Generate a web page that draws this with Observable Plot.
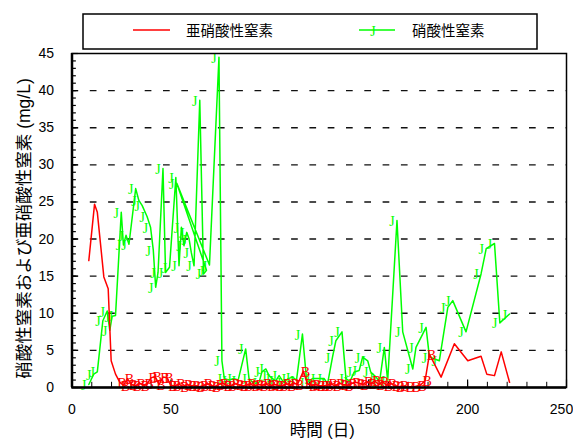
<!DOCTYPE html>
<html><head><meta charset="utf-8">
<script src="https://cdn.jsdelivr.net/npm/d3@7"></script>
<script src="https://cdn.jsdelivr.net/npm/@observablehq/plot@0.6"></script>
<style>
body{margin:0;background:#fff;}
#wrap{position:relative;width:573px;height:439px;}
#wrap svg.leg{position:absolute;left:0;top:0;}
</style></head><body><div id="wrap"></div>
<script>
const seriesNames = ["亜硝酸性窒素", "硝酸性窒素"];
const seriesColors = ["#ff0000", "#00ff00"];
const xTickLabels = [0, 50, 100, 150, 200, 250];
const yTickLabels = [0, 5, 10, 15, 20, 25, 30, 35, 40, 45];
const gridY = [5, 10, 15, 20, 25, 30, 35, 40];

// 硝酸性窒素 (nitrate), in recorded order
const nitrateDays = [8.5, 11, 12.8, 15.6, 17.8, 19.1, 20.3, 22, 24.9, 26, 27.3, 28.8, 32.2, 33.8, 35.5, 38, 39.7, 41.1, 42.3, 43.5, 46, 47.3, 49.3, 52.5, 54.1, 55.3, 56.6, 58, 59.2, 60.3, 61.7, 64.6, 66.5, 68, 53, 69.5, 74.3, 75.8, 77, 79.4, 81.9, 84, 87.8, 89.5, 92, 94.6, 96, 98, 99.6, 101.4, 103, 104.7, 107, 109.3, 111.5, 113.5, 116.5, 118.7, 121.6, 124.1, 127.5, 129.2, 131.7, 133.4, 136.5, 138.5, 140.5, 142.7, 145.2, 146.9, 149.5, 151, 153.7, 155.5, 157.9, 159.6, 164.3, 167.2, 172.3, 173.9, 179, 180.7, 185.7, 190, 192.5, 199.2, 206.8, 209.4, 213.6, 216.3, 221.2];
const nitrateVals = [0.4, 1.8, 2.1, 9.0, 10.3, 7.7, 9.6, 9.7, 23.6, 19.2, 20.5, 19.3, 26.8, 25.2, 24.5, 23, 21.6, 18.5, 13.5, 15.5, 29.5, 15.5, 16.2, 28.3, 16.4, 21.6, 19.1, 20.9, 20, 18.2, 16.4, 38.7, 15.3, 15.8, 27.5, 16.5, 44.5, 3.6, 1.2, 1.0, 1.2, 1.0, 5.2, 1.2, 0.5, 0.7, 2.1, 2.5, 1.6, 1.2, 0.9, 1.6, 0.7, 1.2, 1.4, 1.0, 7.2, 0.7, 1.2, 1.2, 1.2, 0.5, 4.1, 6.3, 7.5, 1.2, 0.8, 2.1, 2.3, 4.1, 3.6, 2.1, 1.4, 0.8, 5.4, 0.9, 22.5, 7.5, 2.5, 5.4, 8.1, 4.1, 3.6, 10.8, 11.7, 7.5, 15.3, 18.7, 19.4, 8.7, 9.9];

// 亜硝酸性窒素 (nitrite)
const nitriteDays = [8.5, 11.4, 12.8, 16.1, 18.3, 19.8, 22, 24.2, 26, 28, 30, 32, 34, 36, 38, 40, 42, 44, 46, 48, 50, 52, 54, 56, 58, 60, 62, 64, 66, 68, 70, 72, 74, 76, 78, 80, 82, 84, 86, 88, 90, 92, 94, 96, 98, 100, 102, 104, 106, 108, 110, 112, 114, 117, 119, 121, 123, 125, 127, 129, 131, 133, 135, 137, 139, 141, 143, 145, 147, 149, 151, 153, 155, 157, 159, 161, 163, 165, 167, 170, 173, 176, 178.5, 180.7, 186.6, 193.3, 200.1, 206.8, 209.7, 213.6, 217, 221.2];
const nitriteVals = [17.1, 24.7, 23.6, 14.9, 13.3, 3.6, 1.8, 0.7, 0.3, 1.2, 0.4, 0.2, 0.6, 0.3, 0.5, 1.3, 1.5, 0.4, 1.4, 1.3, 0.3, 0.2, 0.5, 0.1, 0.4, 0.2, 0.3, 0.1, 0.2, 0.5, 0.3, 0.1, 0.4, 0.6, 0.3, 0.2, 0.5, 0.4, 0.2, 0.3, 0.5, 0.2, 0.4, 0.3, 0.5, 0.2, 0.4, 0.3, 0.2, 0.5, 0.3, 0.6, 0.4, 2.2, 0.5, 0.3, 0.4, 0.2, 0.2, 0.3, 0.5, 0.2, 0.6, 0.4, 0.3, 0.5, 0.7, 0.6, 0.4, 0.8, 0.5, 0.9, 0.4, 0.8, 0.3, 0.6, 0.2, 0.1, 0.2, 0.1, 0.1, 0.3, 0.9, 4.5, 1.4, 5.9, 3.6, 4.2, 1.8, 1.6, 4.8, 0.7];
// nitrite points drawn with a "B" marker: index range
const nitriteMarkFrom = 7, nitriteMarkTo = 84;

const nitrate = nitrateDays.map((d, i) => ({day: d, v: nitrateVals[i]}));
const nitrite = nitriteDays.map((d, i) => ({day: d, v: nitriteVals[i]}));
const nitriteMarked = nitrite.slice(nitriteMarkFrom, nitriteMarkTo);

const xMinor = d3.range(10, 250, 10);
const yMinor = d3.range(1, 45, 1);

const sans = "'Liberation Sans','Noto Sans CJK JP',sans-serif";
const serif = "'Liberation Serif',serif";

const plot = Plot.plot({
  width: 573, height: 439,
  marginLeft: 71.5, marginRight: 7, marginTop: 53, marginBottom: 52,
  x: {domain: [0, 250]},
  y: {domain: [0, 45]},
  style: {fontFamily: sans, fontSize: "14px", color: "black", background: "white"},
  marks: [
    Plot.ruleY(gridY, {stroke: "#111", strokeWidth: 1.4, strokeDasharray: "6.7,11.6"}),
    Plot.ruleX(xMinor, {y1: 0, y2: 0.7, stroke: "black", strokeWidth: 1}),
    Plot.ruleX(xTickLabels, {y1: 0, y2: 1.0, stroke: "black", strokeWidth: 1.2}),
    Plot.ruleY(yMinor, {x1: 0, x2: 2.2, stroke: "black", strokeWidth: 1.2}),
    Plot.ruleY(yTickLabels, {x1: 0, x2: 3.2, stroke: "black", strokeWidth: 1.2}),
    Plot.line(nitrate, {x: "day", y: "v", stroke: seriesColors[1], strokeWidth: 1.5}),
    Plot.text(nitrate, {x: "day", y: "v", text: () => "J", fill: seriesColors[1], fontFamily: serif, fontSize: 14, dx: -5, dy: 1}),
    Plot.line(nitrite, {x: "day", y: "v", stroke: seriesColors[0], strokeWidth: 1.5}),
    Plot.text(nitriteMarked, {x: "day", y: "v", text: () => "B", fill: seriesColors[0], fontFamily: serif, fontSize: 14, dx: 2, dy: 1}),
    Plot.frame({stroke: "black", strokeWidth: 1.5}),
    Plot.ruleX([0], {stroke: "black", strokeWidth: 2.5}),
    Plot.ruleY([0], {stroke: "black", strokeWidth: 2.5}),
    Plot.axisX(xTickLabels.slice(0, -1), {tickSize: 0, tickPadding: 17, label: null, fontSize: 14}),
    Plot.axisX(xTickLabels.slice(-1), {tickSize: 0, tickPadding: 17, label: null, fontSize: 14, dx: -5}),
    Plot.axisY(yTickLabels, {tickSize: 0, tickPadding: 18, label: null, fontSize: 14}),
    Plot.text(["硝酸性窒素および亜硝酸性窒素 (mg/L)"], {frameAnchor: "left", textAnchor: "middle", lineAnchor: "middle", rotate: -90, dx: -48, dy: 8, fontSize: 17.5, fontFamily: sans}),
    Plot.text(["時間 (日)"], {frameAnchor: "bottom", textAnchor: "middle", lineAnchor: "middle", dy: 43, dx: 3, fontSize: 16.5, fontFamily: sans})
  ]
});
const wrap = document.getElementById("wrap");
wrap.appendChild(plot);

// legend
const leg = d3.create("svg").attr("class", "leg").attr("width", 573).attr("height", 52);
leg.append("rect").attr("x", 83).attr("y", 14).attr("width", 454).attr("height", 35)
  .attr("fill", "white").attr("stroke", "black").attr("stroke-width", 1.5);
const items = [
  {x1: 133, x2: 170, tx: 186, marker: null},
  {x1: 359, x2: 395, tx: 412, marker: "J"}
];
items.forEach((it, i) => {
  leg.append("line").attr("x1", it.x1).attr("x2", it.x2).attr("y1", 30).attr("y2", 30)
    .attr("stroke", seriesColors[i]).attr("stroke-width", 1.5);
  if (it.marker) leg.append("text").attr("x", (it.x1 + it.x2) / 2 - 4).attr("y", 31).attr("dy", "0.35em")
    .attr("text-anchor", "middle").attr("font-family", serif).attr("font-size", 14)
    .attr("fill", seriesColors[i]).text(it.marker);
  leg.append("text").attr("x", it.tx).attr("y", 31).attr("dy", "0.35em")
    .attr("font-family", "'Noto Sans CJK JP',sans-serif").attr("font-size", 14.5)
    .attr("fill", "black").text(seriesNames[i]);
});
wrap.appendChild(leg.node());
</script></body></html>
